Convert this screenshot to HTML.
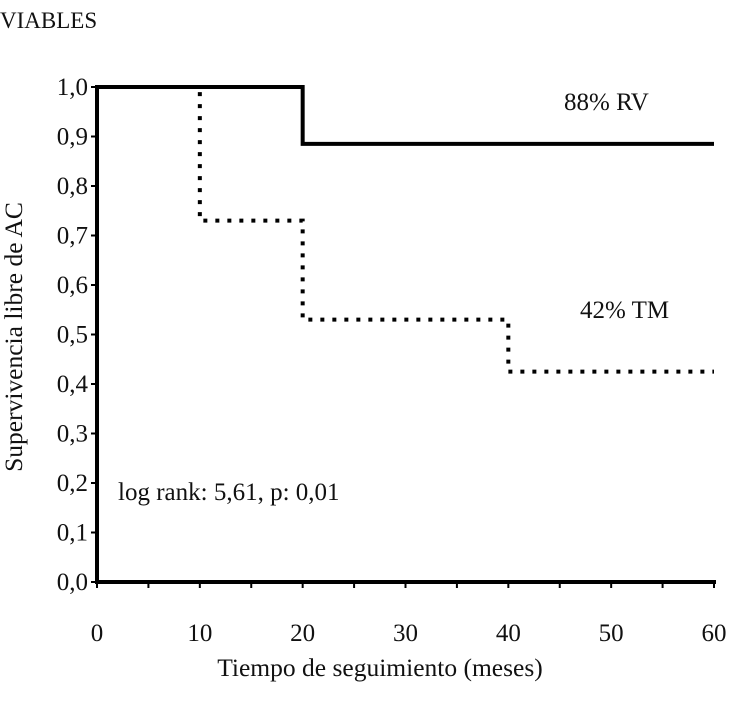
<!DOCTYPE html>
<html><head><meta charset="utf-8"><style>
html,body{margin:0;padding:0;background:#fff;}
svg text{font-family:"Liberation Serif",serif;fill:#111;}
</style></head><body>
<svg id="chart" width="730" height="699" viewBox="0 0 730 699">
<text x="0" y="28" font-size="23">VIABLES</text>
<g id="axes"></g>
<g id="series"></g>
<text x="564" y="110" font-size="25">88% RV</text>
<text x="580" y="318" font-size="25">42% TM</text>
<text x="118" y="500" font-size="25">log rank: 5,61, p: 0,01</text>
<text x="380" y="676" font-size="25.5" text-anchor="middle">Tiempo de seguimiento (meses)</text>
<text transform="translate(22,337) rotate(-90)" font-size="25.5" text-anchor="middle">Supervivencia libre de AC</text>
</svg>
<script>
const xTicks=[0,10,20,30,40,50,60];
const yTicks=[0,0.1,0.2,0.3,0.4,0.5,0.6,0.7,0.8,0.9,1.0];
const rvTimes=[0,20,60];
const rvValues=[1.0,0.885,0.885];
const tmTimes=[0,10,20,40,60];
const tmValues=[1.0,0.73,0.53,0.425,0.425];
const NS='http://www.w3.org/2000/svg';
const x0=97,x1=714,y0=582,y1=87;
const sx=v=>x0+(x1-x0)*v/60;
const sy=v=>y0-(y0-y1)*v;
function mk(t,a,p){const e=document.createElementNS(NS,t);for(const k in a)e.setAttribute(k,a[k]);p.appendChild(e);return e;}
const ax=document.getElementById('axes');
let l=mk('line',{x1:x0,y1:y0,x2:x1+2,y2:y0,stroke:'#000','stroke-width':4},ax);


l=mk('line',{x1:x0,y1:y0+2,x2:x0,y2:y1-2,stroke:'#000','stroke-width':4},ax);


for(let v=0;v<=60;v+=5){const t=mk('line',{x1:sx(v),y1:y0,x2:sx(v),y2:y0+6,stroke:'#000','stroke-width':2},ax);

}
xTicks.forEach(v=>{const t=mk('text',{x:sx(v),y:641,'font-size':25,'text-anchor':'middle'},ax);t.textContent=v;

});
yTicks.forEach(v=>{const t=mk('line',{x1:x0-6,y1:sy(v),x2:x0,y2:sy(v),stroke:'#000','stroke-width':2},ax);


const tx=mk('text',{x:88,y:sy(v)+8,'font-size':25,'text-anchor':'end'},ax);tx.textContent=v.toFixed(1).replace('.',',');

});
function stepKM(ts,vs){let d='M'+sx(ts[0])+','+sy(vs[0]);for(let i=1;i<ts.length;i++){d+=' H'+sx(ts[i])+' V'+sy(vs[i]);}return d;}
const sg=document.getElementById('series');
let p=mk('path',{d:stepKM(rvTimes,rvValues),fill:'none',stroke:'#000','stroke-width':4},sg);


p=mk('path',{d:stepKM(tmTimes,tmValues),fill:'none',stroke:'#000','stroke-width':4,'stroke-dasharray':'4,8'},sg);


</script>
</body></html>
